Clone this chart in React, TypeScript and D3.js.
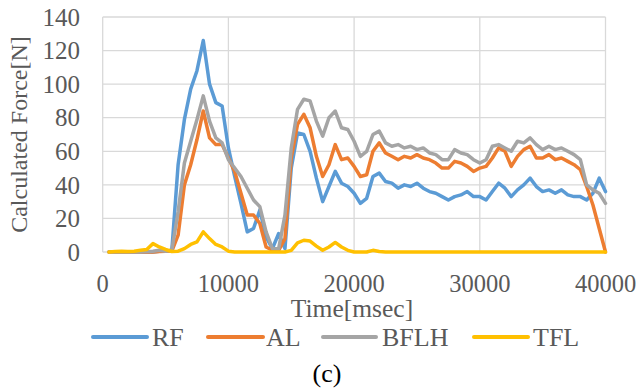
import React from "react";
import * as d3 from "d3";

// Sampling: every 500 ms from 500 to 40000 ms
const T_START = 500;
const T_STEP = 500;

const RF = [
  0, 0, 0, 0, 0, 0, 0, 0, 0.5, 0.5,
  1, 52, 79, 97, 108, 126, 100, 89, 87, 62,
  45, 29, 12, 14, 25, 9, 2, 11, 2, 50,
  71, 70, 60, 44, 30, 39, 48, 41, 39, 35,
  29, 32, 45, 47, 42, 41, 38, 40, 39, 41,
  38, 36, 35, 33, 31, 33, 34, 36, 33, 33,
  31, 36, 41, 38, 33, 37, 40, 44, 39, 36,
  37, 35, 37, 34, 33, 33, 31, 35, 44, 36,
];

const AL = [
  0, 0, 0, 0, 0, 0, 0, 0, 0.3, 0.5,
  0.5, 10, 40, 52, 67, 84, 68, 64, 64, 56,
  48, 35, 22, 22, 17, 3, 1, 1, 8, 56,
  76, 82, 74, 57, 45, 52, 64, 55, 56, 51,
  45, 46, 60, 65, 59, 57, 55, 57, 56, 58,
  56, 55, 53, 50, 50, 54, 53, 51, 48, 50,
  51, 56, 62, 60, 51, 57, 61, 63, 56, 56,
  58, 55, 56, 54, 52, 49, 39, 28, 14, 0,
];

const BFLH = [
  0, 0, 0, 0, 0, 0, 0.3, 0.5, 1, 0.5,
  1, 24, 53, 66, 79, 93, 78, 68, 65, 55,
  50, 45, 38, 31, 27, 12, 2, 2, 22, 62,
  85, 91, 90, 78, 69, 80, 84, 74, 73, 66,
  57, 60, 70, 72, 65, 63, 64, 62, 63, 61,
  62, 59, 58, 55, 55, 61, 59, 58, 55, 53,
  55, 63, 64, 62, 60, 66, 65, 68, 64, 61,
  63, 61, 62, 60, 58, 55, 40, 37, 35, 29,
];

const TFL = [
  0, 0.3, 0.5, 0.3, 0.5, 1, 1.5, 5, 3, 1.5,
  0.3, 0.5, 2, 4.5, 6, 12, 8, 4.5, 3, 0.5,
  0, 0, 0, 0, 0, 0, 0, 0, 0, 1,
  5.5, 7, 6.5, 3.5, 1, 3, 5.7, 3, 1, 0,
  0, 0, 1, 0.3, 0, 0, 0, 0, 0, 0,
  0, 0, 0, 0, 0, 0, 0, 0, 0, 0,
  0, 0, 0, 0, 0, 0, 0, 0, 0, 0,
  0, 0, 0, 0, 0, 0, 0, 0, 0, 0,
];

const SERIES_NAMES = ["RF", "AL", "BFLH", "TFL"];
const SERIES_VALUES = [RF, AL, BFLH, TFL];
const SERIES_COLORS = ["#5B9BD5", "#ED7D31", "#A5A5A5", "#FFC000"];

const X_TICKS = [0, 10000, 20000, 30000, 40000];
const Y_TICKS = [0, 20, 40, 60, 80, 100, 120, 140];

const X_TITLE = "Time[msec]";
const Y_TITLE = "Calculated Force[N]";
const CAPTION = "(c)";

const W = 639;
const H = 392;
const FONT = "'Liberation Serif', 'DejaVu Serif', serif";
const TEXT = "#595959";

const legendLayout = [
  { x1: 93, x2: 147, tx: 152 },
  { x1: 208, x2: 263, tx: 266 },
  { x1: 323, x2: 376, tx: 382 },
  { x1: 474, x2: 528, tx: 533 },
];

export default function App() {
  const x = d3.scaleLinear().domain([0, 40000]).range([102.7, 605.5]);
  const y = d3.scaleLinear().domain([0, 140]).range([252, 17]);

  const line = d3
    .line<number>()
    .x((_, i) => x(T_START + i * T_STEP))
    .y((d) => y(d));

  const tStyle = { fontFamily: FONT };

  return (
    <svg
      width={W}
      height={H}
      style={{ position: "absolute", left: 0, top: 0, background: "#fff", fontFamily: FONT }}
    >
      <rect x={0} y={0} width={W} height={H} fill="#fff" />
      {Y_TICKS.map((t) => (
        <line
          key={"gy" + t}
          x1={x(0)}
          x2={x(40000)}
          y1={y(t)}
          y2={y(t)}
          stroke="#D9D9D9"
          strokeWidth={1.3}
        />
      ))}
      {X_TICKS.map((t) => (
        <line
          key={"gx" + t}
          x1={x(t)}
          x2={x(t)}
          y1={y(0)}
          y2={y(140)}
          stroke="#D9D9D9"
          strokeWidth={1.3}
        />
      ))}
      {SERIES_VALUES.map((vals, i) => (
        <path
          key={SERIES_NAMES[i]}
          d={line(vals) || ""}
          fill="none"
          stroke={SERIES_COLORS[i]}
          strokeWidth={3.5}
          strokeLinejoin="round"
          strokeLinecap="round"
        />
      ))}
      {Y_TICKS.map((t) => (
        <text
          key={"ty" + t}
          x={80}
          y={y(t)}
          dy="0.35em"
          textAnchor="end"
          fontSize={25}
          fill={TEXT}
          style={tStyle}
        >
          {t}
        </text>
      ))}
      {X_TICKS.map((t) => (
        <text
          key={"tx" + t}
          x={x(t)}
          y={291.5}
          textAnchor="middle"
          fontSize={24.5}
          fill={TEXT}
          style={tStyle}
        >
          {t}
        </text>
      ))}
      <text x={352} y={316.5} textAnchor="middle" fontSize={25.5} fill={TEXT} style={tStyle}>
        {X_TITLE}
      </text>
      <text
        transform={`translate(27,${(y(0) + y(140)) / 2}) rotate(-90)`}
        textAnchor="middle"
        fontSize={24}
        fill={TEXT}
        style={tStyle}
      >
        {Y_TITLE}
      </text>
      {SERIES_NAMES.map((name, i) => (
        <g key={"lg" + name}>
          <line
            x1={legendLayout[i].x1}
            x2={legendLayout[i].x2}
            y1={337}
            y2={337}
            stroke={SERIES_COLORS[i]}
            strokeWidth={4}
            strokeLinecap="round"
          />
          <text x={legendLayout[i].tx} y={346} fontSize={26} fill={TEXT} style={tStyle}>
            {name}
          </text>
        </g>
      ))}
      <text x={327} y={382} textAnchor="middle" fontSize={26} fill="#000" style={tStyle}>
        {CAPTION}
      </text>
    </svg>
  );
}
